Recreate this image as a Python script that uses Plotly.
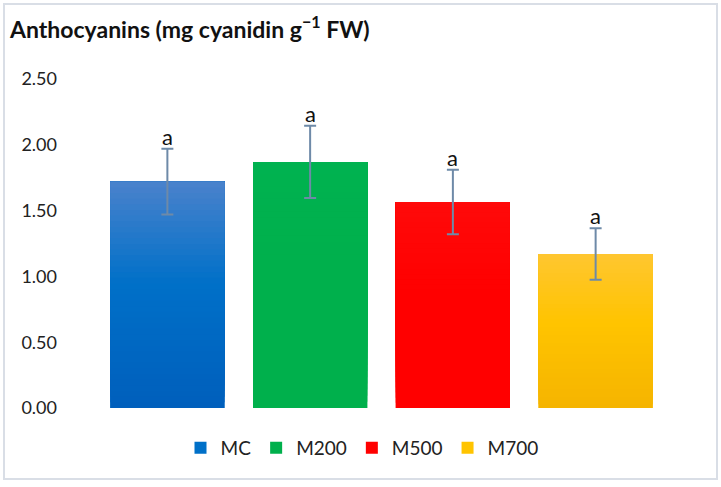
import plotly.graph_objects as go

categories = ["MC", "M200", "M500", "M700"]
means = [1.72, 1.87, 1.565, 1.17]
sds = [0.25, 0.275, 0.245, 0.195]
letters = ["a", "a", "a", "a"]
legend_colors = ["#0070c8", "#00b04c", "#ff0000", "#ffc400"]
# gradient stops (bottom, middle, top) for each bar
grad_stops = [
    ["#005fbc", "#0070c8", "#4a82cc"],
    ["#00b04c", "#00b04c", "#00b250"],
    ["#ff0000", "#ff0000", "#ff0a0a"],
    ["#f5b400", "#ffc400", "#ffc630"],
]
y_ticks = [0, 0.5, 1.0, 1.5, 2.0, 2.5]
y_ticktext = ["0.00", "0.50", "1.00", "1.50", "2.00", "2.50"]

W, H = 721, 487
ml, mr, mt, mb = 96, 54, 79, 79
pw, ph = W - ml - mr, H - mt - mb
N = 40
MID = 0.55


def hex2rgb(h):
    h = h.lstrip("#")
    return [int(h[i:i + 2], 16) for i in (0, 2, 4)]


def interp(c0, c1, t):
    a, b = hex2rgb(c0), hex2rgb(c1)
    return "rgb(%d,%d,%d)" % tuple(round(a[j] + (b[j] - a[j]) * t) for j in range(3))


def grad_color(stops, f):
    if f <= MID:
        return interp(stops[0], stops[1], f / MID)
    return interp(stops[1], stops[2], (f - MID) / (1 - MID))


fig = go.Figure()
for i, c in enumerate(categories):
    v = means[i]
    # legend / base bar
    fig.add_trace(go.Bar(
        x=[c], y=[v], name=c, legendgroup=c,
        marker=dict(color=legend_colors[i], line=dict(width=0)),
        width=0.8, hoverinfo="skip",
    ))
    # gradient slices (each slice runs from its start to the top; later ones paint over)
    for k in range(N):
        f = (k + 0.5) / N
        fig.add_trace(go.Bar(
            x=[c], y=[v * (1 - k / N)], base=[v * k / N],
            legendgroup=c, showlegend=False,
            marker=dict(color=grad_color(grad_stops[i], f), line=dict(width=0)),
            width=0.8, hoverinfo="skip",
        ))
    # error bar on top
    fig.add_trace(go.Scatter(
        x=[c], y=[v], mode="markers", showlegend=False,
        marker=dict(size=1, color="rgba(0,0,0,0)"),
        error_y=dict(type="data", array=[sds[i]], visible=True,
                     color="#6e8aa8", thickness=2, width=6),
        hoverinfo="skip",
    ))

for i, c in enumerate(categories):
    fig.add_annotation(x=c, y=means[i] + sds[i], text=letters[i],
                       showarrow=False, yanchor="bottom", yshift=-3,
                       font=dict(size=22, color="#111", family="Lato"))

fig.add_shape(type="rect", xref="paper", yref="paper",
              x0=(4 - ml) / pw, x1=(717 - ml) / pw,
              y0=(H - mb - 479) / ph, y1=(H - mb - 4) / ph,
              line=dict(color="#d9dee6", width=2), fillcolor="rgba(0,0,0,0)", layer="below")

fig.update_layout(
    width=W, height=H,
    margin=dict(l=ml, r=mr, t=mt, b=mb),
    paper_bgcolor="white", plot_bgcolor="white",
    barmode="overlay",
    font=dict(family="Lato", color="#222"),
    title=dict(text="<b>Anthocyanins (mg cyanidin g<sup>−1</sup> FW)</b>",
               x=10 / W, xanchor="left", y=1 - 30 / H, yanchor="middle",
               font=dict(size=23, color="#111")),
    showlegend=True,
    legend=dict(orientation="h", x=(362 - ml) / pw, xanchor="center",
                y=-40 / ph, yanchor="middle",
                font=dict(size=19, color="#222"), itemwidth=30,
                traceorder="normal"),
    xaxis=dict(showticklabels=False, showline=False, showgrid=False, ticks=""),
    yaxis=dict(range=[0, 2.5], tickvals=y_ticks, ticktext=y_ticktext,
               showgrid=False, showline=False, zeroline=False,
               tickfont=dict(size=18, color="#222"), ticklabelstandoff=38),
)

fig.write_html("out.html", config={"displayModeBar": False},
               post_script="document.body.style.margin='0';document.body.style.padding='0';")
